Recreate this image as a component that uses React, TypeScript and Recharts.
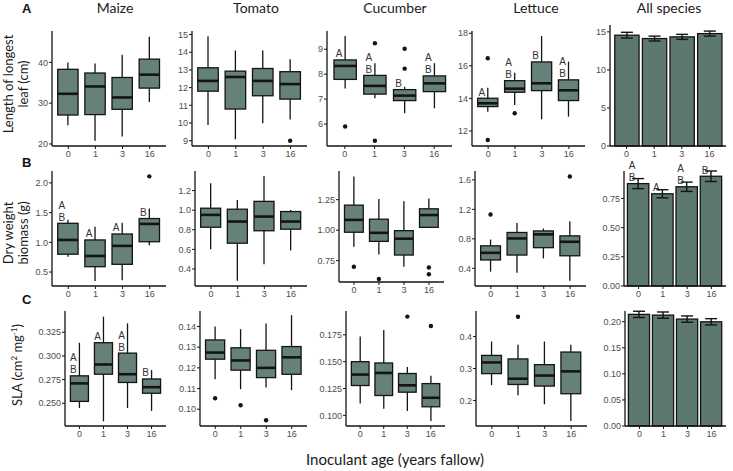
import { ComposedChart, Bar, XAxis, YAxis, ErrorBar } from 'recharts'

const ages = ['0', '1', '3', '16']

// A: length of longest leaf (cm)
const maizeLeaf = {
  lo: [24.6, 20.8, 21.8, 30.3],
  q1: [27.1, 27.2, 28.5, 33.7],
  med: [32.3, 34.1, 31.4, 37.0],
  q3: [38.3, 37.4, 36.3, 40.8],
  hi: [40.0, 39.7, 41.9, 46.3],
  out: [[], [], [], []],
  letters: ['', '', '', ''],
}
const tomatoLeaf = {
  lo: [9.88, 9.08, 9.98, 10.2],
  q1: [11.8, 10.79, 11.54, 11.35],
  med: [12.38, 12.6, 12.38, 12.2],
  q3: [13.12, 12.93, 13.08, 12.9],
  hi: [14.9, 14.1, 14.1, 13.6],
  out: [[], [], [], [9.0]],
  letters: ['', '', '', ''],
}
const cucumberLeaf = {
  lo: [7.43, 7.03, 6.43, 6.63],
  q1: [7.79, 7.2, 6.94, 7.3],
  med: [8.33, 7.53, 7.14, 7.63],
  q3: [8.57, 7.95, 7.38, 7.93],
  hi: [9.53, 8.44, 7.5, 8.44],
  out: [[5.9], [9.24, 5.33], [9.02, 8.22], []],
  letters: ['A', 'AB', 'B', 'AB'],
}
const lettuceLeaf = {
  lo: [13.19, 13.6, 12.72, 12.88],
  q1: [13.5, 14.38, 14.48, 13.87],
  med: [13.7, 14.6, 14.93, 14.5],
  q3: [14.01, 15.09, 16.24, 15.14],
  hi: [14.66, 15.58, 17.83, 16.26],
  out: [[16.47, 11.45], [13.09], [], []],
  letters: ['A', 'AB', 'B', 'AB'],
}
const allLeafMean = [14.56, 14.12, 14.34, 14.77]
const allLeafSe = [0.38, 0.32, 0.33, 0.33]
const allLeafLetters = ['', '', '', '']

// B: dry weight biomass (g)
const maizeMass = {
  lo: [0.756, 0.35, 0.36, 0.95],
  q1: [0.8, 0.59, 0.63, 1.01],
  med: [1.04, 0.77, 0.94, 1.31],
  q3: [1.32, 1.04, 1.14, 1.4],
  hi: [1.38, 1.26, 1.33, 1.57],
  out: [[], [], [], [2.11]],
  letters: ['AB', 'A', 'A', 'B'],
}
const tomatoMass = {
  lo: [0.6, 0.28, 0.449, 0.588],
  q1: [0.826, 0.663, 0.79, 0.806],
  med: [0.952, 0.884, 0.935, 0.884],
  q3: [1.02, 1.01, 1.09, 0.986],
  hi: [1.275, 1.105, 1.35, 1.003],
  out: [[], [], [], []],
  letters: ['', '', '', ''],
}
const cucumberMass = {
  lo: [0.863, 0.8, 0.7, 1.023],
  q1: [0.983, 0.908, 0.796, 1.023],
  med: [1.084, 0.978, 0.93, 1.124],
  q3: [1.205, 1.09, 0.996, 1.175],
  hi: [1.44, 1.255, 1.236, 1.26],
  out: [[0.7], [0.6], [], [0.694, 0.638]],
  letters: ['', '', '', ''],
}
const lettuceMass = {
  lo: [0.355, 0.34, 0.535, 0.23],
  q1: [0.513, 0.58, 0.68, 0.57],
  med: [0.61, 0.805, 0.86, 0.76],
  q3: [0.705, 0.886, 0.907, 0.84],
  hi: [0.79, 1.015, 0.94, 1.04],
  out: [[1.13], [], [], [1.645]],
  letters: ['', '', '', ''],
}
const allMassMean = [0.877, 0.79, 0.85, 0.94]
const allMassSe = [0.043, 0.035, 0.04, 0.045]
const allMassLetters = ['AB', 'A', 'AB', 'B']

// C: SLA (cm2 mg-1)
const maizeSla = {
  lo: [0.245, 0.231, 0.245, 0.242],
  q1: [0.252, 0.2807, 0.272, 0.2606],
  med: [0.271, 0.291, 0.2807, 0.267],
  q3: [0.279, 0.314, 0.303, 0.2757],
  hi: [0.314, 0.3415, 0.3345, 0.285],
  out: [[], [], [], []],
  letters: ['AB', 'A', 'AB', 'B'],
}
const tomatoSla = {
  lo: [0.1145, 0.1097, 0.1105, 0.1092],
  q1: [0.1242, 0.1189, 0.1153, 0.1169],
  med: [0.1274, 0.1236, 0.12, 0.1251],
  q3: [0.1335, 0.1297, 0.1285, 0.1303],
  hi: [0.14, 0.1387, 0.1414, 0.1455],
  out: [[0.1053], [0.1019], [0.0947], []],
  letters: ['', '', '', ''],
}
const cucumberSla = {
  lo: [0.111, 0.1062, 0.104, 0.0947],
  q1: [0.1278, 0.1185, 0.1216, 0.108],
  med: [0.138, 0.1395, 0.128, 0.1164],
  q3: [0.15, 0.1488, 0.139, 0.1296],
  hi: [0.1735, 0.1796, 0.145, 0.137],
  out: [[], [], [0.192], [0.1833]],
  letters: ['', '', '', ''],
}
const lettuceSla = {
  lo: [0.248, 0.216, 0.188, 0.136],
  q1: [0.284, 0.25, 0.245, 0.221],
  med: [0.319, 0.268, 0.278, 0.291],
  q3: [0.341, 0.33, 0.312, 0.3515],
  hi: [0.3845, 0.374, 0.3845, 0.374],
  out: [[], [0.462], [], []],
  letters: ['', '', '', ''],
}
const allSlaMean = [0.214, 0.2126, 0.205, 0.1998]
const allSlaSe = [0.006, 0.006, 0.006, 0.006]
const allSlaLetters = ['', '', '', '']

const BOX_FILL = '#66807a'
const BAR_FILL = '#5d7771'
const INK = '#141414'
const TICK_FONT = { fontSize: 9, fill: '#4d4d4d', fontFamily: '"Liberation Sans", Arial, sans-serif' }
const TITLE_FONT = 'Lato, "Open Sans", sans-serif'

type Geo = { x0: number; x1: number; top: number; bottom: number; domain: [number, number]; ticks: number[]; digits: number }

function Letters({ cx, y, text }: { cx: number; y: number; text: string }) {
  const chars = text.split('')
  return (
    <g>
      {chars.map((c, i) => (
        <text key={i} x={cx - 6} y={y - 6 - (chars.length - 1 - i) * 12} textAnchor="middle" dominantBaseline="central"
          fontSize={10} fill="#333" fontFamily='"Liberation Sans", Arial, sans-serif'>{c}</text>
      ))}
    </g>
  )
}

function BoxShape(props: any) {
  const { x, y, width, height, payload } = props
  const top = Math.min(y, y + height)
  const h = Math.abs(height)
  const span = payload.hi - payload.lo
  const k = span > 0 ? h / span : 0
  const py = (v: number) => top + (payload.hi - v) * k
  const cx = x + width / 2
  return (
    <g>
      <line x1={cx} x2={cx} y1={py(payload.hi)} y2={py(payload.lo)} stroke={INK} strokeWidth={1.3} />
      <rect x={x} y={py(payload.q3)} width={width} height={py(payload.q1) - py(payload.q3)} fill={BOX_FILL} stroke={INK} strokeWidth={1.3} />
      <line x1={x} x2={x + width} y1={py(payload.med)} y2={py(payload.med)} stroke={INK} strokeWidth={2.6} />
      {payload.out.map((v: number, i: number) => (
        <circle key={i} cx={cx} cy={py(v)} r={2.2} fill={INK} />
      ))}
      {payload.letters ? <Letters cx={cx} y={py(payload.q3)} text={payload.letters} /> : null}
    </g>
  )
}

function BarShape(props: any) {
  const { x, y, width, height, payload } = props
  return (
    <g>
      <rect x={x} y={y} width={width} height={height} fill={BAR_FILL} stroke={INK} strokeWidth={1.3} />
      {payload.letters ? <Letters cx={x + width / 2} y={y} text={payload.letters} /> : null}
    </g>
  )
}

const YW = 40
const MT = 20
const XH = 20

function Frame({ g, data, children }: { g: Geo; data: any[]; children: any }) {
  const pw = g.x1 - g.x0
  const band = pw / 4.2
  const pad = band * 0.1
  return (
    <div style={{ position: 'absolute', left: g.x0 - YW, top: g.top - MT }}>
      <ComposedChart width={YW + pw + 2} height={MT + (g.bottom - g.top) + XH} data={data}
        margin={{ top: MT, right: 2, left: 0, bottom: 0 }}>
        <XAxis dataKey="age" height={XH} padding={{ left: pad, right: pad }} tick={TICK_FONT}
          tickSize={3} tickMargin={2} axisLine={{ stroke: INK, strokeWidth: 1.3 }} tickLine={{ stroke: INK }} interval={0} />
        <YAxis width={YW} type="number" domain={g.domain} ticks={g.ticks} tick={TICK_FONT}
          tickSize={3} tickMargin={1} axisLine={{ stroke: INK, strokeWidth: 1.3 }} tickLine={{ stroke: INK }}
          tickFormatter={(v: number) => v.toFixed(g.digits)} interval={0} />
        {children}
      </ComposedChart>
    </div>
  )
}

type BoxSet = typeof maizeLeaf

function BoxPanel({ g, set }: { g: Geo; set: BoxSet }) {
  const data = ages.map((age, i) => ({
    age, lo: set.lo[i], q1: set.q1[i], med: set.med[i], q3: set.q3[i], hi: set.hi[i], out: set.out[i], letters: set.letters[i],
  }))
  const band = (g.x1 - g.x0) / 4.2
  return (
    <Frame g={g} data={data}>
      <Bar dataKey={(d: any) => [d.lo, d.hi]} barSize={band * 0.75} shape={BoxShape} isAnimationActive={false} />
    </Frame>
  )
}

function MeanPanel({ g, mean, se, letters }: { g: Geo; mean: number[]; se: number[]; letters: string[] }) {
  const data = ages.map((age, i) => ({ age, mean: mean[i], se: se[i], letters: letters[i] }))
  const band = (g.x1 - g.x0) / 4.2
  return (
    <Frame g={g} data={data}>
      <Bar dataKey="mean" barSize={band * 0.88} shape={BarShape} isAnimationActive={false}>
        <ErrorBar dataKey="se" width={6} stroke={INK} strokeWidth={1.4} direction="y" />
      </Bar>
    </Frame>
  )
}

const geo = (x0: number, x1: number, top: number, bottom: number, domain: [number, number], ticks: number[], digits: number): Geo =>
  ({ x0, x1, top, bottom, domain, ticks, digits })

export default function App() {
  const txt = { fontFamily: TITLE_FONT, fill: '#1a1a1a' }
  return (
    <div style={{ position: 'absolute', left: 0, top: 0, width: 733, height: 471, background: '#fff', overflow: 'hidden' }}>
      {/* row A */}
      <BoxPanel g={geo(52, 166, 31, 146, [19.5, 47.7], [20, 30, 40], 0)} set={maizeLeaf} />
      <BoxPanel g={geo(192, 307, 31, 146, [8.7, 15.2], [9, 10, 11, 12, 13, 14, 15], 0)} set={tomatoLeaf} />
      <BoxPanel g={geo(327, 452, 31, 146, [5.12, 9.73], [6, 7, 8, 9], 0)} set={cucumberLeaf} />
      <BoxPanel g={geo(472, 585, 31, 146, [11.08, 18.14], [12, 14, 16, 18], 0)} set={lettuceLeaf} />
      <MeanPanel g={geo(610, 726, 25, 146, [0, 15.9], [0, 5, 10, 15], 0)} mean={allLeafMean} se={allLeafSe} letters={allLeafLetters} />
      {/* row B */}
      <BoxPanel g={geo(52, 166, 171, 286, [0.265, 2.2], [0.5, 1, 1.5, 2], 1)} set={maizeMass} />
      <BoxPanel g={geo(195, 307, 171, 286, [0.226, 1.4], [0.4, 0.6, 0.8, 1.0, 1.2], 1)} set={tomatoMass} />
      <BoxPanel g={geo(339, 444, 171, 282, [0.575, 1.485], [0.75, 1, 1.25], 2)} set={cucumberMass} />
      <BoxPanel g={geo(475, 586, 171, 286, [0.16, 1.72], [0.4, 0.8, 1.2, 1.6], 1)} set={lettuceMass} />
      <MeanPanel g={geo(624, 726, 171, 286, [0, 0.985], [0, 0.25, 0.5, 0.75], 2)} mean={allMassMean} se={allMassSe} letters={allMassLetters} />
      {/* row C */}
      <BoxPanel g={geo(65, 166, 311, 426, [0.226, 0.3475], [0.25, 0.275, 0.3, 0.325], 3)} set={maizeSla} />
      <BoxPanel g={geo(200, 307, 311, 426, [0.0919, 0.1475], [0.1, 0.11, 0.12, 0.13, 0.14], 2)} set={tomatoSla} />
      <BoxPanel g={geo(346, 445, 311, 426, [0.0901, 0.1972], [0.1, 0.125, 0.15, 0.175], 3)} set={cucumberSla} />
      <BoxPanel g={geo(476, 587, 311, 426, [0.12, 0.48], [0.2, 0.3, 0.4], 1)} set={lettuceSla} />
      <MeanPanel g={geo(625, 726, 311, 426, [0, 0.2205], [0, 0.05, 0.1, 0.15, 0.2], 2)} mean={allSlaMean} se={allSlaSe} letters={allSlaLetters} />

      <svg width={733} height={471} style={{ position: 'absolute', left: 0, top: 0, pointerEvents: 'none' }}>
        <g fontFamily='"Liberation Sans", Arial, sans-serif' fontWeight="bold" fontSize={13} fill="#111">
          <text x={22} y={13}>A</text>
          <text x={22} y={167}>B</text>
          <text x={22} y={304}>C</text>
        </g>
        <g {...txt} fontSize={14} textAnchor="middle">
          <text x={115} y={13}>Maize</text>
          <text x={256} y={13}>Tomato</text>
          <text x={395} y={13}>Cucumber</text>
          <text x={536} y={13}>Lettuce</text>
          <text x={669} y={13}>All species</text>
        </g>
        <g {...txt} fontSize={13} textAnchor="middle">
          <text transform="translate(13,84) rotate(-90)">Length of longest</text>
          <text transform="translate(28,84) rotate(-90)">leaf (cm)</text>
          <text transform="translate(13,233) rotate(-90)">Dry weight</text>
          <text transform="translate(28,233) rotate(-90)">biomass (g)</text>
          <text transform="translate(22,365) rotate(-90)">
            SLA (cm<tspan dy={-5} fontSize={8}>2</tspan><tspan dy={5}> mg</tspan><tspan dy={-5} fontSize={8}>-1</tspan><tspan dy={5}>)</tspan>
          </text>
        </g>
        <text {...txt} x={395} y={465} fontSize={15} textAnchor="middle">Inoculant age (years fallow)</text>
      </svg>
    </div>
  )
}
